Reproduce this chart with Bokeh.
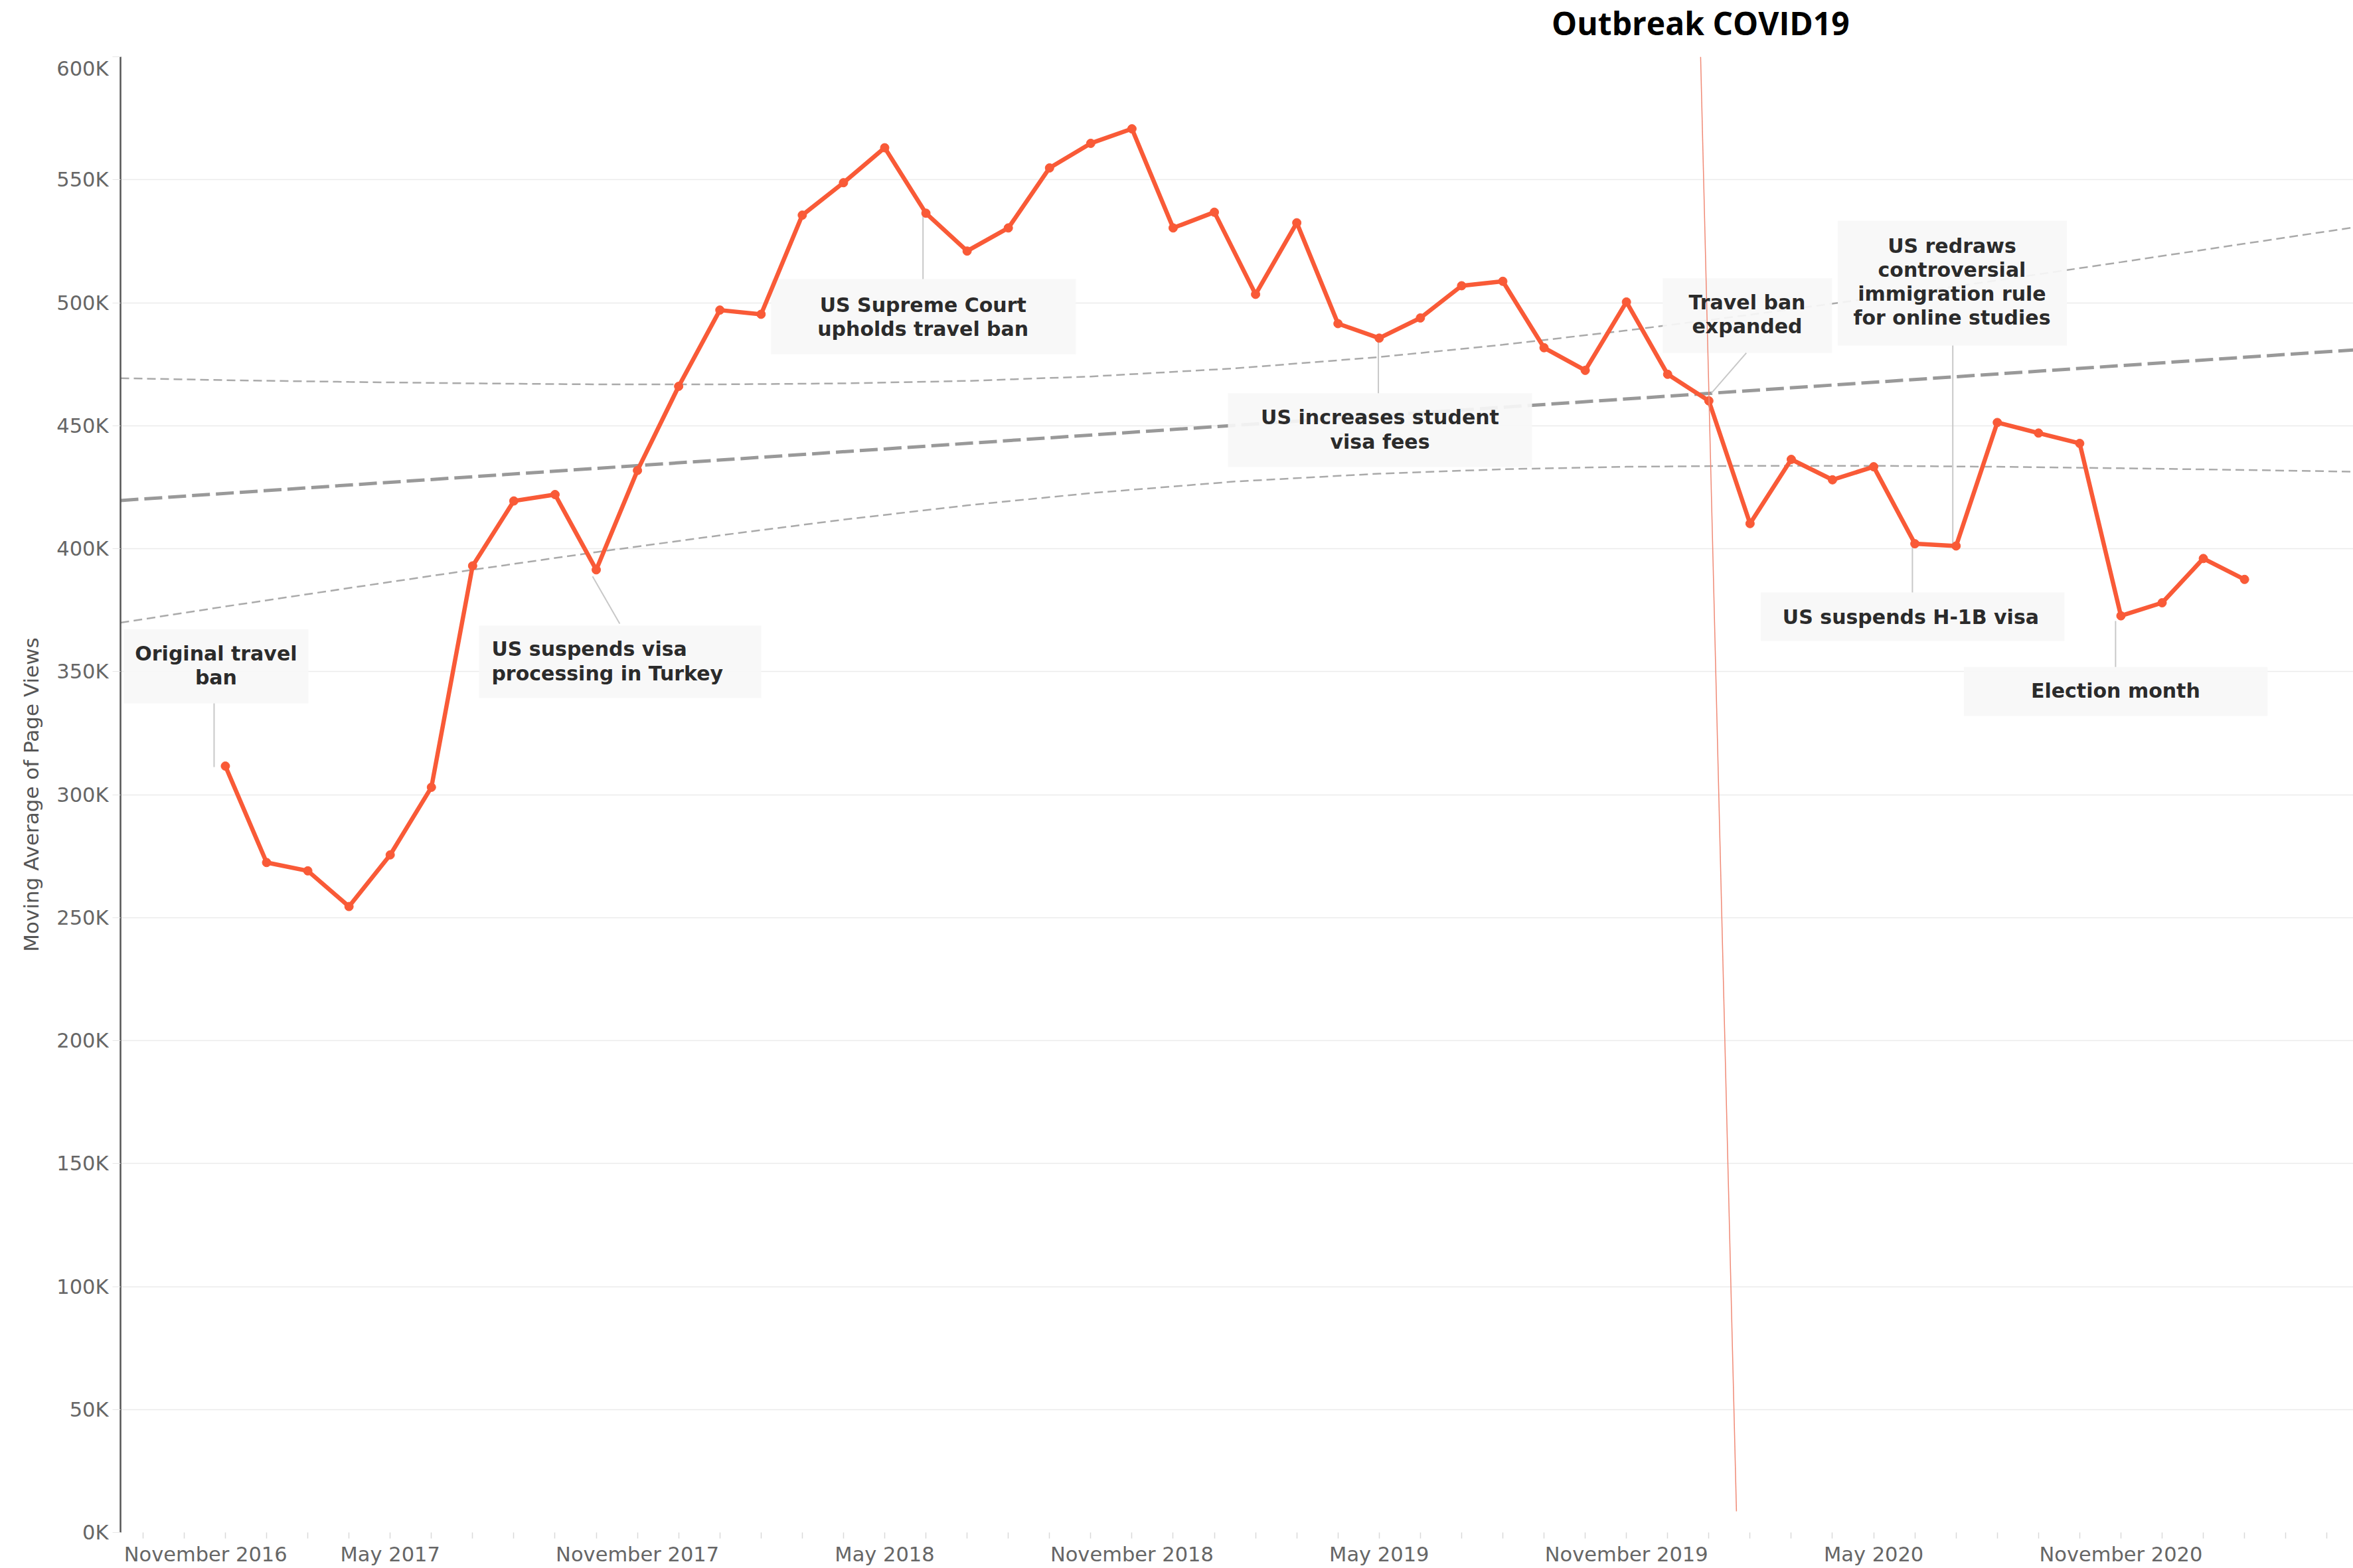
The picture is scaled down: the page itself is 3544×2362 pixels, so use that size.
import pandas as pd
from bokeh.plotting import figure
from bokeh.layouts import column
from bokeh.models import FixedTicker, Range1d, ColumnDataSource
from bokeh.core.properties import value
from bokeh.embed import file_html
from bokeh.resources import INLINE

# ---------------- data ----------------
months = pd.period_range("2017-01", "2021-02", freq="M")
page_views = [311600, 272400, 269000, 254500, 275500, 303000, 393000, 419400,
              422000, 391400, 431800, 466000, 497000, 495300, 535600, 548800,
              563000, 536400, 521000, 530400, 554800, 564800, 570700, 530400,
              536800, 503400, 532500, 491500, 485600, 493800, 506900, 508700,
              481700, 472500, 500300, 470900, 460100, 410200, 436300, 428000,
              433300, 402000, 401100, 451300, 447000, 442800, 372700, 378000,
              396000, 387500]

# linear trend and its confidence band (month offsets from January 2017)
trend_x = [-2.545, 51.64]
trend_y = [419600, 480800]
band_x = [-2.545, 0, 3, 6, 9, 12, 15, 18, 21, 24.5, 28, 31, 34, 37, 40, 43, 46, 49, 51.64]
band_upper = [469300, 468500, 467800, 467200, 466800, 466800, 467200, 468200, 470000,
              473300, 477900, 482900, 488700, 495100, 501900, 509100, 516500, 524000, 530600]
band_lower = [369900, 376500, 384000, 391400, 398600, 405400, 411800, 417600, 422600,
              427300, 430500, 432300, 433300, 433700, 433700, 433300, 432700, 432000, 431300]

covid_x = [35.80, 36.67]
covid_y = [600000, 8600]
covid_label = "Outbreak COVID19"

y_ticks = list(range(0, 600001, 50000))
y_tick_labels = [f"{v // 1000}K" for v in y_ticks]
x_label_months = ["2016-11", "2017-05", "2017-11", "2018-05", "2018-11",
                  "2019-05", "2019-11", "2020-05", "2020-11"]

events = ["Original travel\nban",
          "US suspends visa\nprocessing in Turkey",
          "US Supreme Court\nupholds travel ban",
          "US increases student\nvisa fees",
          "Travel ban\nexpanded",
          "US redraws\ncontroversial\nimmigration rule\nfor online studies",
          "US suspends H-1B visa",
          "Election month"]

# ---------------- annotation layout (data coords) ----------------
box_left = [-2.465, 6.155, 13.243, 24.33, 34.88, 39.13, 37.26, 42.19]
box_right = [2.014, 13.002, 20.638, 31.71, 38.99, 44.69, 44.63, 49.56]
box_top = [367300, 368700, 509600, 463200, 509900, 533300, 382200, 351900]
box_bottom = [337100, 339300, 479100, 433200, 479600, 482600, 362500, 332000]
text_x = [-0.226, 6.46, 16.93, 28.02, 36.93, 41.9, 40.9, 45.87]
text_y = [352500, 354250, 494200, 448450, 495150, 508400, 372200, 342200]
text_align = ["center", "left", "center", "center", "center", "center", "center", "center"]
conn_x0 = [-0.274, 8.91, 16.93, 27.98, 36.91, 41.92, 40.94, 45.87]
conn_y0 = [337100, 388700, 536300, 485600, 479600, 482600, 401900, 370600]
conn_x1 = [-0.274, 9.57, 16.93, 27.98, 36.06, 41.92, 40.94, 45.87]
conn_y1 = [311200, 369500, 509600, 463200, 463200, 401600, 382200, 351900]

x = list(range(len(months)))
base = months[0]
xr = Range1d(-2.545, 51.64)

# ---------------- header strip with the outbreak label ----------------
head = figure(width=3544, height=85, output_backend="svg", toolbar_location=None,
              x_range=xr, y_range=Range1d(0, 1),
              min_border_left=181, min_border_right=0, min_border_top=0,
              min_border_bottom=0)
head.title.visible = False
head.axis.visible = False
head.grid.visible = False
head.outline_line_color = None
head.text(x=[covid_x[0]], y=[0.6], text=[covid_label],
          text_font=value("Open Sans"), text_font_style="bold", text_font_size="48px",
          text_color="#000000", text_align="center", text_baseline="middle")

# ---------------- main chart ----------------
p = figure(width=3544, height=2277, output_backend="svg", toolbar_location=None,
           x_range=xr, y_range=Range1d(0, 600000),
           min_border_left=181, min_border_right=0, min_border_top=0,
           min_border_bottom=54)
p.title.visible = False
p.outline_line_color = None
p.background_fill_color = "white"
p.border_fill_color = "white"

# grid
p.xgrid.visible = False
p.ygrid.grid_line_color = "#ebebeb"
p.ygrid.grid_line_width = 1.5

# y axis
p.yaxis.ticker = FixedTicker(ticks=y_ticks)
p.yaxis.major_label_overrides = {v: s for v, s in zip(y_ticks, y_tick_labels)}
p.yaxis.axis_line_color = "#555555"
p.yaxis.axis_line_width = 2.5
p.yaxis.major_tick_out = 12
p.yaxis.major_tick_in = 0
p.yaxis.major_tick_line_color = "#e6e6e6"
p.yaxis.minor_tick_line_color = None
p.yaxis.major_label_standoff = 6
p.yaxis.major_label_text_font = "DejaVu Sans"
p.yaxis.major_label_text_font_size = "30.5px"
p.yaxis.major_label_text_color = "#666666"
p.yaxis.axis_label = "Moving Average of Page Views"
p.yaxis.axis_label_text_font = "DejaVu Sans"
p.yaxis.axis_label_text_font_style = "normal"
p.yaxis.axis_label_text_font_size = "31px"
p.yaxis.axis_label_text_color = "#555555"
p.yaxis.axis_label_standoff = 17

# x axis: monthly ticks, labels every six months
label_shift = {"2016-11": 1.52}
label_pos, label_txt = [], []
for s in x_label_months:
    per = pd.Period(s, freq="M")
    pos = (per - base).n + label_shift.get(s, 0.0)
    label_pos.append(pos)
    label_txt.append(per.strftime("%B %Y"))
minor = list(range(-2, 52))
p.xaxis.ticker = FixedTicker(ticks=label_pos, minor_ticks=minor)
p.xaxis.major_label_overrides = {pos: t for pos, t in zip(label_pos, label_txt)}
p.xaxis.axis_line_color = None
p.xaxis.major_tick_line_color = None
p.xaxis.major_tick_out = 0
p.xaxis.major_tick_in = 0
p.xaxis.minor_tick_out = 9
p.xaxis.minor_tick_in = 0
p.xaxis.minor_tick_line_color = "#d9d9d9"
p.xaxis.minor_tick_line_width = 1.5
p.xaxis.major_label_standoff = 6
p.xaxis.major_label_text_font = "DejaVu Sans"
p.xaxis.major_label_text_font_size = "30.5px"
p.xaxis.major_label_text_line_height = 1.0
p.xaxis.major_label_text_color = "#666666"

# trend line and confidence band
p.line(band_x, band_upper, line_color="#aaaaaa", line_width=2.5, line_dash="13 7")
p.line(band_x, band_lower, line_color="#aaaaaa", line_width=2.5, line_dash="13 7")
p.line(trend_x, trend_y, line_color="#999999", line_width=5, line_dash="27 9")

# annotation boxes and connectors
p.quad(left=box_left, right=box_right, top=box_top, bottom=box_bottom,
       fill_color="#f7f7f7", fill_alpha=0.92, line_color=None)
p.segment(x0=conn_x0, y0=conn_y0, x1=conn_x1, y1=conn_y1,
          line_color="#c8c8c8", line_width=2)

# main series
src = ColumnDataSource(dict(x=x, y=page_views,
                            month=[m.strftime("%B %Y") for m in months]))
p.line("x", "y", source=src, line_color="#F95A37", line_width=6.5)
p.scatter("x", "y", source=src, size=13, fill_color="#F95A37", line_color="#F95A37")

# COVID outbreak marker
p.line(covid_x, covid_y, line_color="#f08a76", line_width=1.5)

# annotation texts
tsrc = ColumnDataSource(dict(x=text_x, y=text_y, t=events, a=text_align))
p.text("x", "y", text="t", source=tsrc, text_align="a", text_baseline="middle",
       text_font=value("DejaVu Sans"), text_font_style="bold",
       text_font_size="30px", text_color="#2b2b2b", text_line_height=1.03)

layout = column(head, p, spacing=0)
open("out.html", "w").write(file_html(layout, INLINE))
